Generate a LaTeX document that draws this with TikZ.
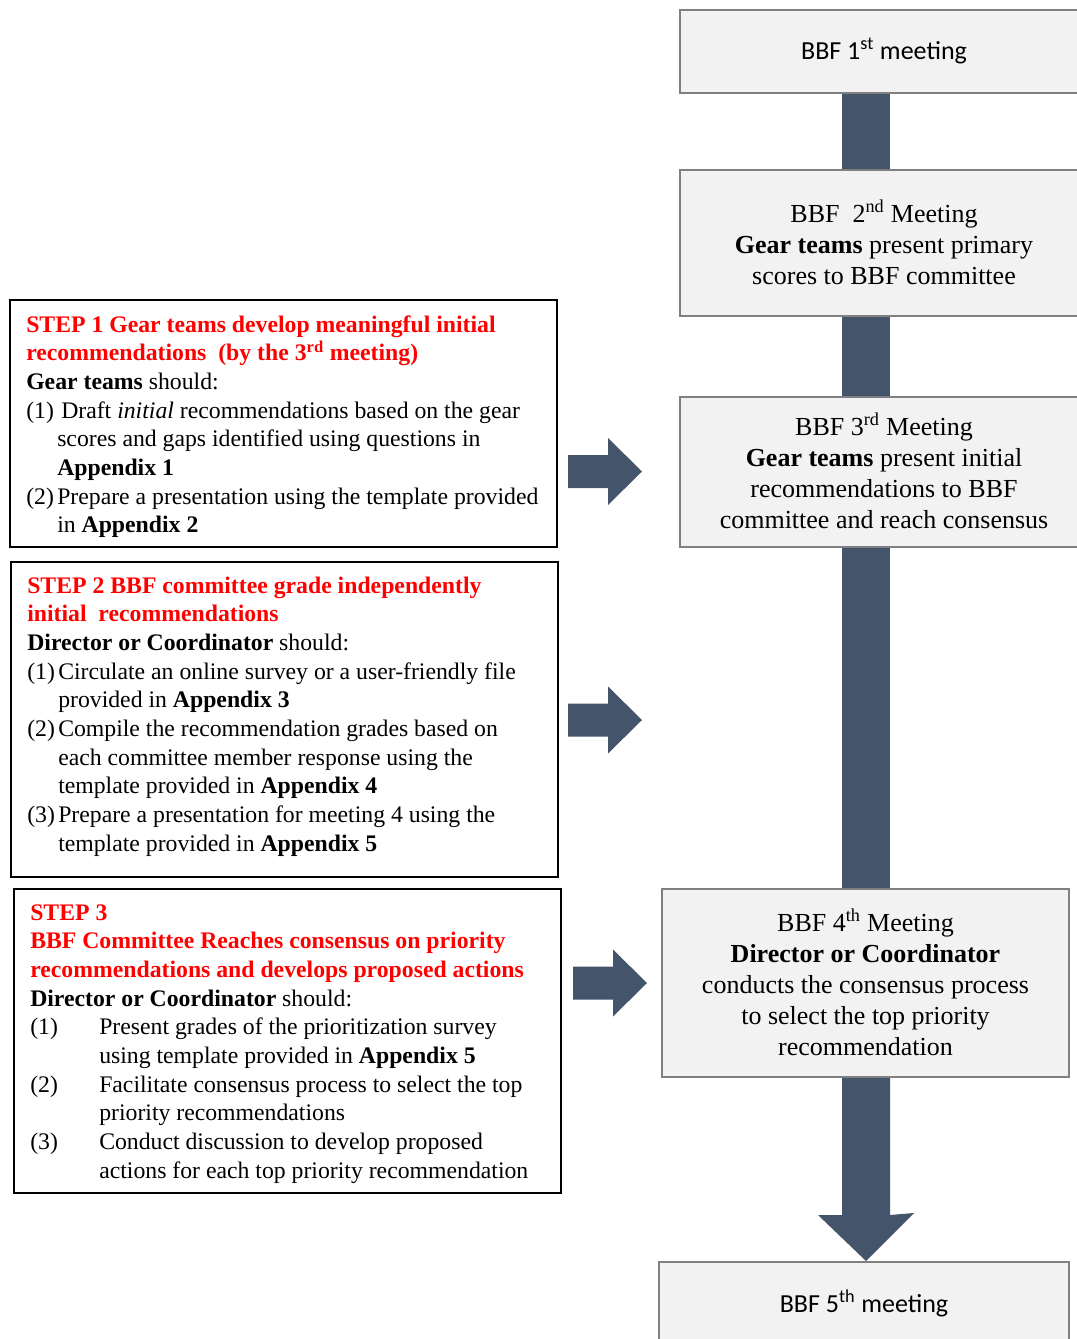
\documentclass[tikz,border=0pt]{standalone}
\usepackage{fontspec}
\setmainfont{Liberation Serif}
\newfontfamily\calfont{Carlito}
\usetikzlibrary{fit,backgrounds}
\definecolor{barcol}{RGB}{68,84,106}
\definecolor{boxfill}{RGB}{242,242,242}
\definecolor{boxline}{RGB}{128,128,128}
\definecolor{stepred}{RGB}{255,0,0}
\newcommand{\lbl}[1]{\makebox[23.25pt][l]{#1}}
\newcommand{\ind}{\hspace*{23.25pt}}
\newcommand{\lblw}[1]{\makebox[51.75pt][l]{#1}}
\newcommand{\indw}{\hspace*{51.75pt}}
\newcommand{\rarrow}[1]{\fill[barfill] (#1) ++(0,-16.5) -- ++(40,0) -- ++(0,-17) -- ++(34,33.5) -- ++(-34,33.5) -- ++(0,-17) -- ++(-40,0) -- cycle;}
\tikzset{
  lbox/.style={draw=black, line width=1.5pt, fill=white, inner sep=0pt},
  mbox/.style={draw=boxline, line width=1.5pt, fill=boxfill, inner sep=0pt},
  mtext/.style={inner sep=0pt, align=center, yshift=0.8pt, font=\fontsize{19.5pt}{23.25pt}\selectfont},
  ctext/.style={inner sep=0pt, align=center, yshift=0.4pt, font=\calfont\fontsize{19.5pt}{23.25pt}\selectfont},
  steptext/.style={anchor=base west, inner sep=0pt, font=\fontsize{17.8pt}{21.5pt}\selectfont},
  barfill/.style={fill=barcol}
}
\begin{document}
\begin{tikzpicture}[x=0.75pt,y=-0.75pt]
\useasboundingbox (0,0) rectangle (1077,1339);
\clip (0,0) rectangle (1077,1339);

% meeting column
\node[mbox, fit={(680,10) (1088,93)}] (m1) {};
\node[mbox, fit={(680,170) (1088,316)}] (m2) {};
\node[mbox, fit={(680,397) (1088,547)}] (m3) {};
\node[mbox, fit={(662,889) (1069,1077)}] (m4) {};
\node[mbox, fit={(659,1262) (1069,1346)}] (m5) {};

\node[ctext] (m1t) at (m1.center) {BBF 1\textsuperscript{st} meeting};
\node[mtext] (m2t) at (m2.center) {BBF\ \ 2\textsuperscript{nd} Meeting\\ \textbf{Gear teams} present primary\\ scores to BBF committee};
\node[mtext] (m3t) at (m3.center) {BBF 3\textsuperscript{rd} Meeting\\ \textbf{Gear teams} present initial\\ recommendations to BBF\\ committee and reach consensus};
\node[mtext] (m4t) at (m4.center) {BBF 4\textsuperscript{th} Meeting\\ \textbf{Director or Coordinator}\\ conducts the consensus process\\ to select the top priority\\ recommendation};
\node[ctext] (m5t) at (m5.center) {BBF 5\textsuperscript{th} meeting};

\coordinate (bl) at (842,0);
\coordinate (br) at (890,0);
\coordinate (hd) at (0,1215);
\coordinate (bx) at (866,0);
\begin{pgfonlayer}{background}
\fill[barfill] (bl |- m1.south) rectangle (br |- m2.north);
\fill[barfill] (bl |- m2.south) rectangle (br |- m3.north);
\fill[barfill] (bl |- m3.south) rectangle (br |- m4.north);
\fill[barfill] (bl |- m4.south) -- (bl |- hd) -- ++(-24,0) -- (bx |- m5.north) -- ++(48,-48) -- (br |- hd) -- (br |- m4.south) -- cycle;
\end{pgfonlayer}

% step boxes
\node[lbox, fit={(10,300) (557,547)}] (s1) {};
\node[lbox, fit={(11,562) (558,877)}] (s2) {};
\node[lbox, fit={(14,889) (561,1193)}] (s3) {};

\node[steptext] (t1) at (26,332) {\parbox[t]{420pt}{\raggedright
\textcolor{stepred}{\bfseries STEP 1 Gear teams develop meaningful initial\\
recommendations\ \ (by the 3\textsuperscript{rd} meeting)}\\
\textbf{Gear teams} should:\\
\lbl{(1)}\hspace{3pt}Draft \textit{initial} recommendations based on the gear\\
\ind scores and gaps identified using questions in\\
\ind \textbf{Appendix 1}\\
\lbl{(2)}Prepare a presentation using the template provided\\
\ind in \textbf{Appendix 2}}};

\node[steptext] (t2) at (27,593) {\parbox[t]{420pt}{\raggedright
\textcolor{stepred}{\bfseries STEP 2 BBF committee grade independently\\
initial\ \ recommendations}\\
\textbf{Director or Coordinator} should:\\
\lbl{(1)}Circulate an online survey or a user-friendly file\\
\ind provided in \textbf{Appendix 3}\\
\lbl{(2)}Compile the recommendation grades based on\\
\ind each committee member response using the\\
\ind template provided in \textbf{Appendix 4}\\
\lbl{(3)}Prepare a presentation for meeting 4 using the\\
\ind template provided in \textbf{Appendix 5}}};

\node[steptext] (t3) at (30,920) {\parbox[t]{420pt}{\raggedright
\textcolor{stepred}{\bfseries STEP 3\\
BBF Committee Reaches consensus on priority\\
recommendations and develops proposed actions}\\
\textbf{Director or Coordinator} should:\\
\lblw{(1)}Present grades of the prioritization survey\\
\indw using template provided in \textbf{Appendix 5}\\
\lblw{(2)}Facilitate consensus process to select the top\\
\indw priority recommendations\\
\lblw{(3)}Conduct discussion to develop proposed\\
\indw actions for each top priority recommendation}};

% block arrows
\coordinate (a1) at (568,471.5);
\coordinate (a2) at (568,720);
\coordinate (a3) at (573,983);
\rarrow{a1}
\rarrow{a2}
\rarrow{a3}
\end{tikzpicture}
\end{document}
